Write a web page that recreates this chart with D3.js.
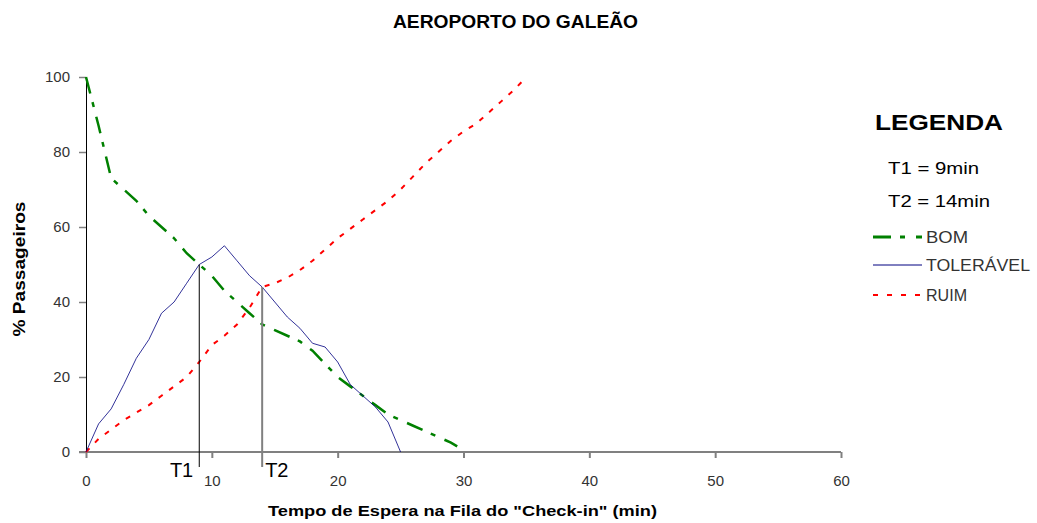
<!DOCTYPE html>
<html>
<head>
<meta charset="utf-8">
<script src="https://cdn.jsdelivr.net/npm/d3@7/dist/d3.min.js"></script>
<style>
  html, body { margin: 0; padding: 0; background: #fff; }
  svg { display: block; }
  text { font-family: "Liberation Sans", Arial, sans-serif; }
</style>
</head>
<body>
<svg id="chart" width="1037" height="523"></svg>
<script>
// ---------- data ----------
const xTicks = [0, 10, 20, 30, 40, 50, 60];
const yTicks = [0, 20, 40, 60, 80, 100];

const bomX = [0,1,2,3,4,5,6,7,8,9,10,11,12,13,14,15,16,17,18,19,20,21,22,23,24,25,26,27,28,29,29.5];
const bomY = [100,87,73,70,67,63,60,57,53,50,47,43,40,37,34,32.5,31,29.5,27,23.5,20,17.5,15,12.5,10,8.5,7,5.5,4,2.5,1.5];

const tolX = [0,1,2,3,4,5,6,7,8,9,10,11,12,13,14,15,16,17,18,19,20,21,22,23,24,25];
const tolY = [0,7.5,11.5,18,25,30,37,40,45,50,52,55,51,47,44,40,36,33,29,28,24,18,15,12,8,0];

const ruimX = [0,1,2,3,4,5,6,7,8,9,10,11,12,13,14,15,16,17,18,19,20,21,22,23,24,25,26,27,28,29,30,31,32,33,34,35];
const ruimY = [0,3.5,6,8.5,10.5,12.5,15,17.5,20,24,28.5,31,34,38.5,44,45,46.5,48.5,51,54,57,59.5,62,64.5,67,70,73.5,77,80,83,85.5,87.5,90.5,93.5,96.5,100];

const markerLabels = ["T1", "T2"];
const markerX = [9, 14];
const markerTopY = [50, 44];

const seriesNames = ["BOM", "TOLERÁVEL", "RUIM"];
const titleText = "AEROPORTO DO GALEÃO";
const xTitle = 'Tempo de Espera na Fila do "Check-in" (min)';
const yTitle = "% Passageiros";
const legendTitle = "LEGENDA";
const legendNotes = ["T1 = 9min", "T2 = 14min"];

// ---------- layout ----------
const svg = d3.select("#chart");
const x = d3.scaleLinear().domain([0, 60]).range([86, 841]);
const y = d3.scaleLinear().domain([0, 100]).range([452, 77]);

const colors = { bom: "#008000", tol: "#000080", ruim: "#ff0000" };
const tickFont = '"Liberation Sans", Arial, sans-serif';

// title
svg.append("text").attr("x", 515.5).attr("y", 28).attr("text-anchor", "middle")
  .attr("font-size", 18).attr("font-weight", "bold").attr("fill", "#000")
  .attr("textLength", 245).attr("lengthAdjust", "spacingAndGlyphs").text(titleText);

// x axis
const xAxis = svg.append("g").attr("transform", `translate(0,${y(0)})`)
  .call(d3.axisBottom(x).tickValues(xTicks).tickSize(6).tickPadding(17).tickFormat(d3.format("d")));
xAxis.select(".domain").attr("stroke", "#808080").attr("stroke-width", 2).attr("d", `M${x(0)-7},0H${x(60)}`);
xAxis.selectAll(".tick line").attr("stroke", "#808080").attr("stroke-width", 2);
xAxis.selectAll(".tick text").attr("font-size", 15).attr("fill", "#333").attr("font-family", tickFont);

// y axis
const yAxis = svg.append("g").attr("transform", `translate(${x(0)},0)`)
  .call(d3.axisLeft(y).tickValues(yTicks).tickSize(7).tickPadding(9).tickFormat(d3.format("d")));
yAxis.select(".domain").attr("stroke", "#000").attr("stroke-width", 1).attr("d", `M0.5,${y(0)}V${y(100)}`);
yAxis.selectAll(".tick line").attr("stroke", "#808080").attr("stroke-width", 1.5);
yAxis.selectAll(".tick text").attr("font-size", 15).attr("fill", "#333").attr("font-family", tickFont);

// axis titles
svg.append("text").attr("x", 462.5).attr("y", 516).attr("text-anchor", "middle")
  .attr("font-size", 15).attr("font-weight", "bold")
  .attr("textLength", 389).attr("lengthAdjust", "spacingAndGlyphs").text(xTitle);
svg.append("text").attr("transform", "translate(25,269) rotate(-90)").attr("text-anchor", "middle")
  .attr("font-size", 16).attr("font-weight", "bold")
  .attr("textLength", 135).attr("lengthAdjust", "spacingAndGlyphs").text(yTitle);

// lines
const line = d3.line().x(d => x(d[0])).y(d => y(d[1]));
svg.append("path").datum(ruimX.map((v, i) => [v, ruimY[i]]))
  .attr("d", line).attr("fill", "none").attr("stroke", colors.ruim)
  .attr("stroke-width", 2).attr("stroke-dasharray", "5,8");
svg.append("path").datum(bomX.map((v, i) => [v, bomY[i]]))
  .attr("d", line).attr("fill", "none").attr("stroke", colors.bom)
  .attr("stroke-width", 2.5).attr("stroke-dasharray", "17,9,5,10");
svg.append("path").datum(tolX.map((v, i) => [v, tolY[i]]))
  .attr("d", line).attr("fill", "none").attr("stroke", colors.tol)
  .attr("stroke-width", 1).attr("opacity", 0.8);

// markers T1, T2
markerX.forEach((mx, i) => {
  svg.append("line").attr("x1", x(mx)).attr("x2", x(mx))
    .attr("y1", y(markerTopY[i])).attr("y2", y(0) + 15)
    .attr("stroke", i === 0 ? "#000" : "#808080").attr("stroke-width", i === 0 ? 1 : 2);
  svg.append("text")
    .attr("x", i === 0 ? x(mx) - 6 : x(mx) + 3).attr("y", 477)
    .attr("text-anchor", i === 0 ? "end" : "start")
    .attr("font-size", 20).attr("fill", "#000").text(markerLabels[i]);
});

// legend
svg.append("text").attr("x", 875).attr("y", 130).attr("font-size", 22).attr("font-weight", "bold")
  .attr("textLength", 128).attr("lengthAdjust", "spacingAndGlyphs").text(legendTitle);
const noteY = [174, 207];
const noteLen = [91, 102];
legendNotes.forEach((t, i) => {
  svg.append("text").attr("x", 888).attr("y", noteY[i]).attr("font-size", 16)
    .attr("textLength", noteLen[i]).attr("lengthAdjust", "spacingAndGlyphs").text(t);
});
const legY = [237, 265, 295];
const legLen = [42, 104, 41];
const legStroke = [colors.bom, colors.tol, colors.ruim];
const legDash = ["18,9,5,11", null, "5,9"];
const legWidth = [3, 1, 2];
seriesNames.forEach((name, i) => {
  const l = svg.append("line").attr("x1", 873).attr("x2", 922)
    .attr("y1", legY[i]).attr("y2", legY[i])
    .attr("stroke", legStroke[i]).attr("stroke-width", legWidth[i]);
  if (legDash[i]) l.attr("stroke-dasharray", legDash[i]);
  svg.append("text").attr("x", 926).attr("y", legY[i] + 5.5).attr("font-size", 16).attr("fill", "#333")
    .attr("textLength", legLen[i]).attr("lengthAdjust", "spacingAndGlyphs").text(name);
});
</script>
</body>
</html>
